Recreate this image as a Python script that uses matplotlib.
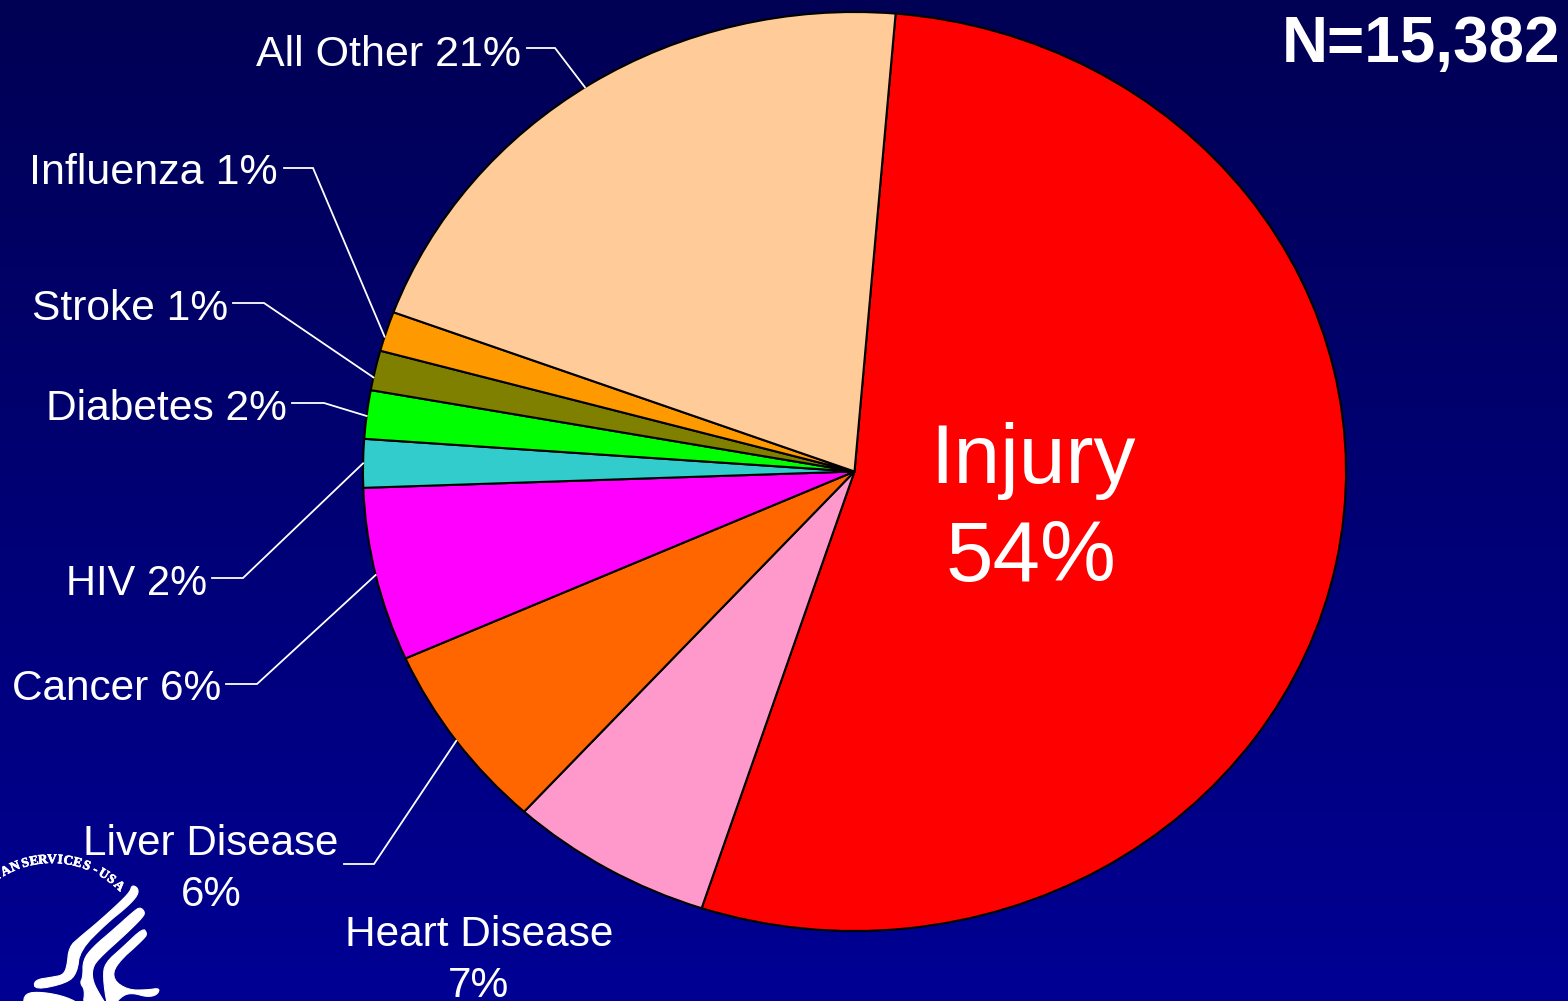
import numpy as np
import matplotlib
matplotlib.use('Agg')
import matplotlib.pyplot as plt
import matplotlib.patheffects as pe
from matplotlib.patches import Polygon

plt.rcParams['font.family'] = ['Liberation Sans', 'DejaVu Sans']

W, H = 1568, 1001

# pie data, clockwise from Injury
categories = ['Injury', 'Heart Disease', 'Liver Disease', 'Cancer', 'HIV',
              'Diabetes', 'Stroke', 'Influenza', 'All Other']
shares = [53.7, 6.7, 6.6, 6.1, 1.7, 1.7, 1.4, 1.4, 20.7]
colors = ['#FF0000', '#FF99CC', '#FF6600', '#FF00FF', '#33CCCC',
          '#00FF00', '#808000', '#FF9900', '#FFCC99']
pct_labels = ['54%', '7%', '6%', '6%', '2%', '2%', '1%', '1%', '21%']

fig = plt.figure(figsize=(W / 100, H / 100), dpi=100)

# background gradient + pixel coordinate layer
bg = fig.add_axes([0, 0, 1, 1])
bg.axis('off')
grad = np.zeros((256, 1, 3))
grad[:, 0, 2] = np.linspace(0.33, 0.58, 256)
bg.imshow(grad, extent=(0, W, H, 0), aspect='auto', zorder=0)
bg.set_xlim(0, W)
bg.set_ylim(H, 0)

# pie is stretched, so it gets its own axes box
cx, cy, rx, ry = 854.5, 471.5, 491.5, 459.5
ax = fig.add_axes([(cx - rx) / W, 1 - (cy + ry) / H, 2 * rx / W, 2 * ry / H])
wedges, _ = ax.pie(shares, colors=colors, startangle=85.2, counterclock=False,
                   radius=1, wedgeprops=dict(edgecolor='black', linewidth=1.5))
ax.set_aspect('auto')
ax.set_xlim(-1, 1)
ax.set_ylim(-1, 1)
for w in wedges:
    w.set_clip_on(False)

top = fig.add_axes([0, 0, 1, 1])
top.set_xlim(0, W)
top.set_ylim(H, 0)
top.axis('off')


def label(x, y, s, size=31, ha='right', **kw):
    top.text(x, y, s, color='white', fontsize=size, ha=ha, va='baseline', **kw)


def leader(i, x0, x1, y, nudge=0):
    # runs from the label, over the elbow, to the middle of the wedge rim
    mid = np.radians((wedges[i].theta1 + wedges[i].theta2) / 2 + nudge)
    top.plot([x0, x1, cx + rx * np.cos(mid)], [y, y, cy - ry * np.sin(mid)],
             color='white', lw=1.3, solid_joinstyle='miter')


# side labels: start of leader, elbow, line y, text anchor, angle nudge, size
leaders = {
    'All Other': (527, 555, 48, 521, 66, 0.8, 31),
    'Influenza': (284, 313, 168, 278, 184, 0.7, 31),
    'Stroke': (233, 264, 303, 228, 320, 0.9, 30.6),
    'Diabetes': (292, 324, 403, 287, 420, 0.2, 30.6),
    'HIV': (212, 243, 578, 207, 595, 0, 30),
    'Cancer': (226, 257, 684, 221, 700, 0, 30.5),
}
for name, (x0, x1, y, tx, ty, nudge, size) in leaders.items():
    i = categories.index(name)
    label(tx, ty, f'{name} {pct_labels[i]}', size=size)
    leader(i, x0, x1, y, nudge)

# liver disease and heart disease have two line labels
i = categories.index('Liver Disease')
leader(i, 344, 374, 864)
label(211, 855, 'Liver Disease', size=30.3, ha='center')
label(211, 906, pct_labels[i], size=30.3, ha='center')

label(479, 946, 'Heart Disease', size=30.5, ha='center')
label(479, 997, pct_labels[1], size=30.5, ha='center')

label(1033, 483, 'Injury', size=60.5, ha='center')
label(1031, 581, pct_labels[0], size=61.5, ha='center')
label(1560, 62, 'N=15,382', size=46, fontweight='bold')

# HHS logo, outlines traced from the corner
logo_shapes = [
    [(132, 885), (138, 888), (138, 895), (127, 907), (107, 923), (80, 950),
     (77, 973), (67, 983), (35, 990), (34, 980), (53, 977), (63, 975),
     (67, 967), (69, 947), (80, 937), (97, 923), (117, 905), (130, 892)],
    [(140, 907), (145, 912), (143, 917), (127, 933), (97, 960), (92, 970),
     (93, 982), (100, 995), (107, 1006), (83, 1006), (85, 990), (80, 983),
     (83, 977), (83, 960), (93, 947), (113, 930), (133, 912)],
    [(143, 928), (147, 933), (145, 938), (115, 965), (113, 980), (128, 990),
     (147, 990), (160, 988), (157, 995), (147, 997), (133, 993), (123, 995),
     (113, 1006), (107, 1006), (103, 977), (105, 963), (123, 947)],
    [(23, 1006), (25, 993), (43, 992), (67, 997), (83, 1006)],
]


def smooth(pts, rounds=2):
    # corner cutting so the traced outline does not look faceted
    pts = np.array(pts, dtype=float)
    for _ in range(rounds):
        nxt = np.roll(pts, -1, axis=0)
        pts = np.column_stack([0.75 * pts + 0.25 * nxt,
                               0.25 * pts + 0.75 * nxt]).reshape(-1, 2)
    return pts


for pts in logo_shapes:
    top.add_patch(Polygon(smooth(pts), closed=True, facecolor='white',
                          edgecolor='white', lw=0.8))

# seal text round the top of the logo, angle in degrees from straight up
seal = ['M', 'A', 'N', 'S', 'E', 'R', 'V', 'I', 'C', 'E', 'S', '-',
        'U', 'S', 'A']
seal_angle = [-36, -28, -22, -15.7, -10.5, -5.3, 0, 4.7, 9.5, 15,
              20.6, 26.3, 31.6, 37, 43]
for ch, a in zip(seal, seal_angle):
    ang = np.radians(a)
    top.text(52 + 98 * np.sin(ang), 958 - 98 * np.cos(ang), ch, color='white',
             fontsize=9.5, fontweight='bold', ha='center', va='center',
             rotation=-a, rotation_mode='anchor',
             family=['Liberation Serif', 'DejaVu Serif'],
             path_effects=[pe.withStroke(linewidth=0.5, foreground='white')])

fig.savefig('out.png', dpi=100)
